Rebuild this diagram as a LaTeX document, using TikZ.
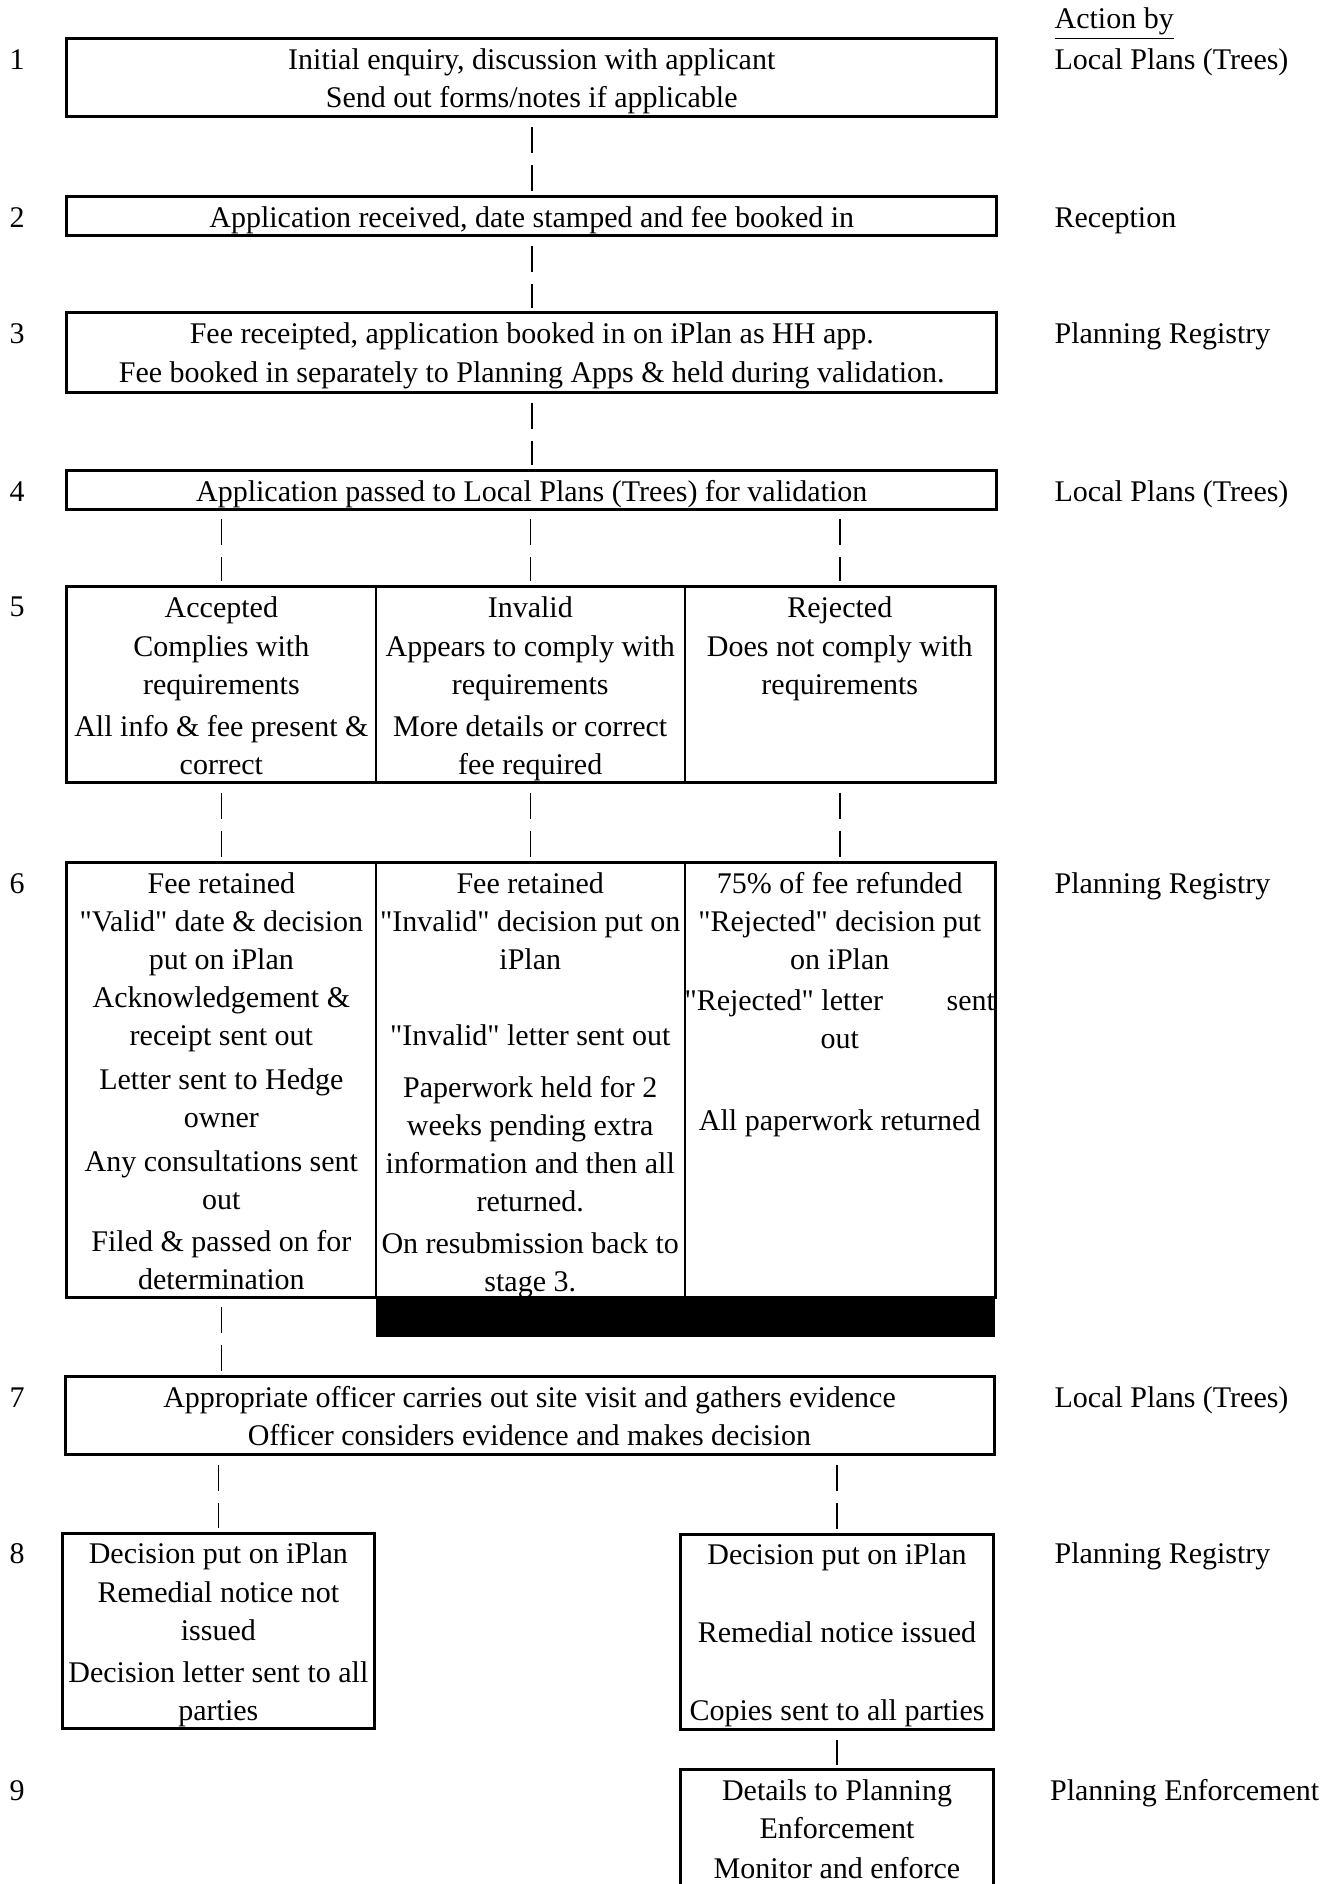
\documentclass[tikz,border=0pt]{standalone}
\usepackage{fontspec}
\setmainfont{Liberation Serif}
\usetikzlibrary{positioning}

% text of one stage box: width, height, lines (top aligned)
\newcommand\stagetext[3]{%
  \parbox[c][#2][t]{#1}{\centering\rule{0pt}{12.3pt}\ignorespaces#3}}
% straight quotes round a word
\newcommand\qq[1]{\textquotedbl#1\textquotedbl}

\begin{document}
\begin{tikzpicture}[x=1pt,y=-1pt,
    font=\fontsize{12pt}{15.2pt}\selectfont,
    stage/.style={draw,line width=1.2pt,inner sep=0pt,outer sep=0pt,anchor=north west},
    cell/.style={stage,line width=.8pt},
    frame/.style={line width=1.2pt},
    link/.style={line width=.6pt,shorten <=4pt,shorten >=2pt,
      dash pattern=on 10.4pt off 4.8pt},
    stepno/.style={anchor=base},
    actor/.style={anchor=base west}]
  \useasboundingbox (0,0) rectangle (532,753.6);

  % single boxes, stages 1-4
  \node[stage] (b1) at (26.7,15.4) {\stagetext{372pt}{31.4pt}{%
    Initial enquiry, discussion with applicant\\
    Send out forms/notes if applicable}};
  \node[stage] (b2) at (26.7,78.6) {\stagetext{372pt}{15.8pt}{%
    Application received, date stamped and fee booked in}};
  \node[stage] (b3) at (26.7,125.2) {\stagetext{372pt}{31.9pt}{%
    Fee receipted, application booked in on iPlan as HH app.\\[.4pt]
    Fee booked in separately to Planning Apps \& held during validation.}};
  \node[stage] (b4) at (26.7,188.2) {\stagetext{372pt}{15.6pt}{%
    Application passed to Local Plans (Trees) for validation}};

  % stage 5: three outcomes
  \node[cell] (c5a) at (26.7,234.5) {\stagetext{123.7pt}{78.5pt}{%
    Accepted\\[.4pt]
    Complies with\\ requirements\\[1.6pt]
    All info \& fee present \&\\ correct}};
  \node[cell,right=0pt of c5a] (c5b) {\stagetext{123.4pt}{78.5pt}{%
    Invalid\\[.4pt]
    Appears to comply with\\ requirements\\[1.6pt]
    More details or correct\\ fee required}};
  \node[cell,right=0pt of c5b] (c5c) {\stagetext{124.2pt}{78.5pt}{%
    Rejected\\[.4pt]
    Does not comply with\\ requirements}};
  \draw[frame] (c5a.north west) rectangle (c5c.south east);

  % stage 6
  \node[cell] (c6a) at (26.7,345) {\stagetext{123.7pt}{173.8pt}{%
    Fee retained\\
    \qq{Valid} date \& decision\\ put on iPlan\\
    Acknowledgement \&\\ receipt sent out\\[2.6pt]
    Letter sent to Hedge\\ owner\\[2.4pt]
    Any consultations sent\\ out\\[1.6pt]
    Filed \& passed on for\\ determination}};
  \node[cell,right=0pt of c6a] (c6b) {\stagetext{123.4pt}{173.8pt}{%
    Fee retained\\
    \qq{Invalid} decision put on\\ iPlan\\ \mbox{}\\
    \qq{Invalid} letter sent out\\[5.6pt]
    Paperwork held for 2\\ weeks pending extra\\
    information and then all\\ returned.\\[1.6pt]
    On resubmission back to\\ stage 3.}};
  \node[cell,right=0pt of c6b] (c6c) {\stagetext{124.2pt}{173.8pt}{%
    75\% of fee refunded\\
    \qq{Rejected} decision put\\ on iPlan\\[1.2pt]
    \makebox[\linewidth]{\qq{Rejected} letter\hfill sent}\\ out\\ \mbox{}\\[2.4pt]
    All paperwork returned}};
  \draw[frame] (c6a.north west) rectangle (c6c.south east);
  \fill (c6b.south west) rectangle ([yshift=-16pt]c6c.south east);

  % stages 7-9
  \node[stage] (b7) at (26,550.6) {\stagetext{371.6pt}{31.3pt}{%
    Appropriate officer carries out site visit and gathers evidence\\
    Officer considers evidence and makes decision}};
  \node[stage] (b8l) at (25.1,613.2) {\stagetext{124.5pt}{78.3pt}{%
    Decision put on iPlan\\[.4pt]
    Remedial notice not\\ issued\\[1.6pt]
    Decision letter sent to all\\ parties}};
  \node[stage] (b8r) at (272.2,613.6) {\stagetext{125.2pt}{78.3pt}{%
    Decision put on iPlan\\ \mbox{}\\[.8pt]
    Remedial notice issued\\ \mbox{}\\[.8pt]
    Copies sent to all parties}};
  \node[stage] (b9) at (272.2,707.8) {\stagetext{125.2pt}{60pt}{%
    Details to Planning\\ Enforcement\\[.8pt]
    Monitor and enforce}};

  % links
  \draw[link] (b1) -- (b2);
  \draw[link] (b2) -- (b3);
  \draw[link] (b3) -- (b4);
  \foreach \c in {a,b,c} {
    \draw[link] (b4.south -| c5\c) -- (c5\c);
    \draw[link] (c5\c) -- (c6\c);
  }
  \draw[link] (c6a) -- (b7.north -| c6a);
  \draw[link] (b7.south -| b8l) -- (b8l);
  \draw[link] (b7.south -| b8r) -- (b8r);
  \draw[link] (b8r) -- (b9);

  % stage numbers
  \foreach \n/\y in {1/27.7,2/90.9,3/137.5,4/200.5,5/246.8,6/357.3,7/562.9,8/625.5,9/720.1}
    \node[stepno] (n\n) at (6.8,\y) {\n};

  % who acts
  \node[actor] (head) at (418.3,11.6) {\underline{Action by}};
  \node[actor] (a1) at (418.3,27.7) {Local Plans (Trees)};
  \node[actor] (a2) at (418.3,90.9) {Reception};
  \node[actor] (a3) at (418.3,137.5) {Planning Registry};
  \node[actor] (a4) at (418.3,200.5) {Local Plans (Trees)};
  \node[actor] (a6) at (418.3,357.3) {Planning Registry};
  \node[actor] (a7) at (418.3,562.9) {Local Plans (Trees)};
  \node[actor] (a8) at (418.3,625.5) {Planning Registry};
  \node[actor] (a9) at (416.5,720.1) {Planning Enforcement};
\end{tikzpicture}
\end{document}
